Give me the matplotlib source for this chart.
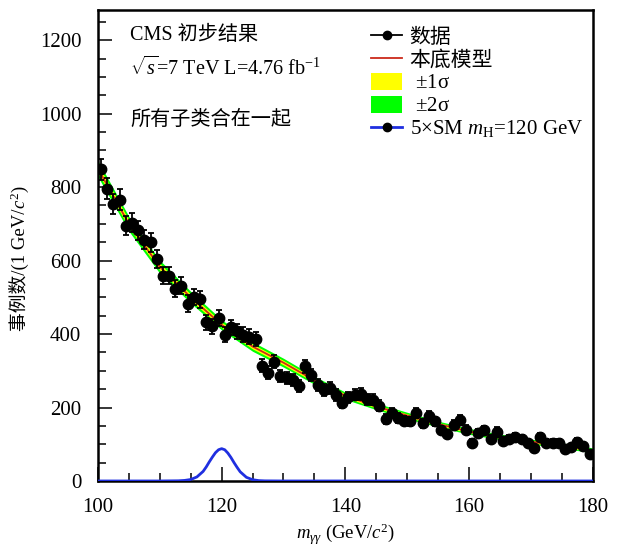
import numpy as np
import matplotlib
matplotlib.use("Agg")
from matplotlib import pyplot as plt
from matplotlib.patches import Patch
from matplotlib.lines import Line2D

plt.rcParams['font.family'] = ['Liberation Serif', 'Noto Sans CJK SC', 'DejaVu Sans']
plt.rcParams['mathtext.fontset'] = 'custom'
plt.rcParams['mathtext.rm'] = 'Liberation Serif'
plt.rcParams['mathtext.it'] = 'Liberation Serif:italic'

# measured diphoton mass spectrum, 1 GeV bins
mass = np.arange(100.5, 180.5, 1.0)
events = [848, 796, 753, 766, 695, 703, 682, 657, 650, 605,
          559, 559, 523, 532, 483, 501, 494, 432, 421, 444,
          398, 418, 407, 398, 393, 386, 314, 295, 325, 286,
          280, 275, 259, 312, 289, 262, 248, 254, 234, 212,
          228, 235, 237, 223, 221, 205, 168, 186, 171, 164,
          162, 185, 157, 177, 162, 139, 128, 153, 166, 140,
          104, 130, 139, 114, 134, 110, 114, 119, 114, 104,
          89, 119, 103, 103, 103, 86, 92, 107, 94, 74]

# background fit and its uncertainty bands
bkg_mass = [100, 105, 110, 115, 120, 125, 130, 135, 140, 145,
            150, 155, 160, 165, 170, 175, 180]
bkg_fit = [850, 700, 583, 500, 425, 366, 322, 274, 232, 203,
           178, 155, 135, 120, 107, 97, 83]
band_1s = [11, 10, 9, 8, 7, 6.5, 6, 5.5, 5, 4.5, 4.5, 4, 4, 4, 3.5, 3.5, 3.5]
band_2s = [22, 20, 18, 16, 14, 13, 12, 11, 10, 9, 9, 8, 8, 8, 7, 7, 7]

# 5 x SM signal expectation for mH = 120 GeV
sig_mass = [100, 110, 113, 114, 115, 116, 117, 117.5, 118, 118.5, 119, 119.5,
            120, 120.5, 121, 121.5, 122, 122.5, 123, 124, 125, 126, 127, 130, 180]
sig_events = [0, 0, 0.5, 1.5, 4, 11, 26, 38, 52, 65, 77, 85,
              88, 85, 76, 64, 50, 37, 25, 10, 3.5, 1, 0.3, 0, 0]

bkg_fit = np.array(bkg_fit)
band_1s = np.array(band_1s)
band_2s = np.array(band_2s)

fig = plt.figure(figsize=(6.2, 5.47), dpi=100)
ax = fig.add_axes([0.158, 0.1207, 0.798, 0.861])

ax.fill_between(bkg_mass, bkg_fit - band_2s, bkg_fit + band_2s, color='#00ff00', lw=0)
ax.fill_between(bkg_mass, bkg_fit - band_1s, bkg_fit + band_1s, color='#ffff00', lw=0)
ax.plot(bkg_mass, bkg_fit, color='#cc2a1a', lw=1.3)
ax.plot(sig_mass, sig_events, color='#1f2fe0', lw=2.0, zorder=4)
ax.errorbar(mass, events, yerr=np.sqrt(events), fmt='o', color='black',
            ms=7.5, elinewidth=1.3, capsize=2, capthick=1.3, zorder=5)

ax.set_xlim(100, 180)
ax.set_ylim(0, 1282)
ax.set_xticks([100, 120, 140, 160, 180])
ax.set_xticks(np.arange(100, 181, 5), minor=True)
ax.set_yticks([0, 200, 400, 600, 800, 1000, 1200])
ax.set_yticks(np.arange(0, 1281, 50), minor=True)
ax.tick_params(which='both', direction='in', labelsize=15, width=1.1)
ax.tick_params(axis='x', which='major', length=10, pad=12)
ax.tick_params(axis='y', which='major', length=10, pad=12)
ax.tick_params(which='minor', length=5.5)
for sp in ax.spines.values():
    sp.set_linewidth(1.8)

ax.set_xlabel(r'$m_{\gamma\gamma}$ (GeV/$c^2$)', fontsize=13.5, labelpad=4)
# CJK part as plain text, math part attached at its end
yl = ax.set_ylabel('事例数/(1 GeV/', fontsize=13.5)
ax.yaxis.set_label_coords(-0.139, 0.448)
ax.annotate(r'$c^2$)', xy=(0.55, 1.0), xycoords=yl, rotation=90,
            ha='center', va='bottom', fontsize=13.5)

ax.text(0.065, 0.946, 'CMS 初步结果', transform=ax.transAxes, fontsize=14.5, va='center')
ax.text(0.065, 0.876, r'$\sqrt{s}$=7 TeV L=4.76 fb$^{-1}$', transform=ax.transAxes,
        fontsize=14.5, va='center')
ax.text(0.065, 0.766, '所有子类合在一起', transform=ax.transAxes, fontsize=14.5, va='center')

handles = [
    Line2D([], [], color='black', marker='o', ms=6, lw=1.3),
    Line2D([], [], color='#cc2a1a', lw=1.3),
    Patch(facecolor='#ffff00', edgecolor='none'),
    Patch(facecolor='#00ff00', edgecolor='none'),
    Line2D([], [], color='#1f2fe0', marker='o', mfc='black', mec='black', ms=6, lw=2),
]
labels = ['数据', '本底模型', r' $\pm$1σ', r' $\pm$2σ', r'5×SM $m_{\mathrm{H}}$=120 GeV']
ax.legend(handles, labels, loc='upper left', bbox_to_anchor=(0.535, 0.982), frameon=False,
          fontsize=15, handlelength=1.5, handletextpad=0.35, labelspacing=0.1,
          handleheight=0.9, borderaxespad=0)

fig.savefig('out.png', dpi=100)
